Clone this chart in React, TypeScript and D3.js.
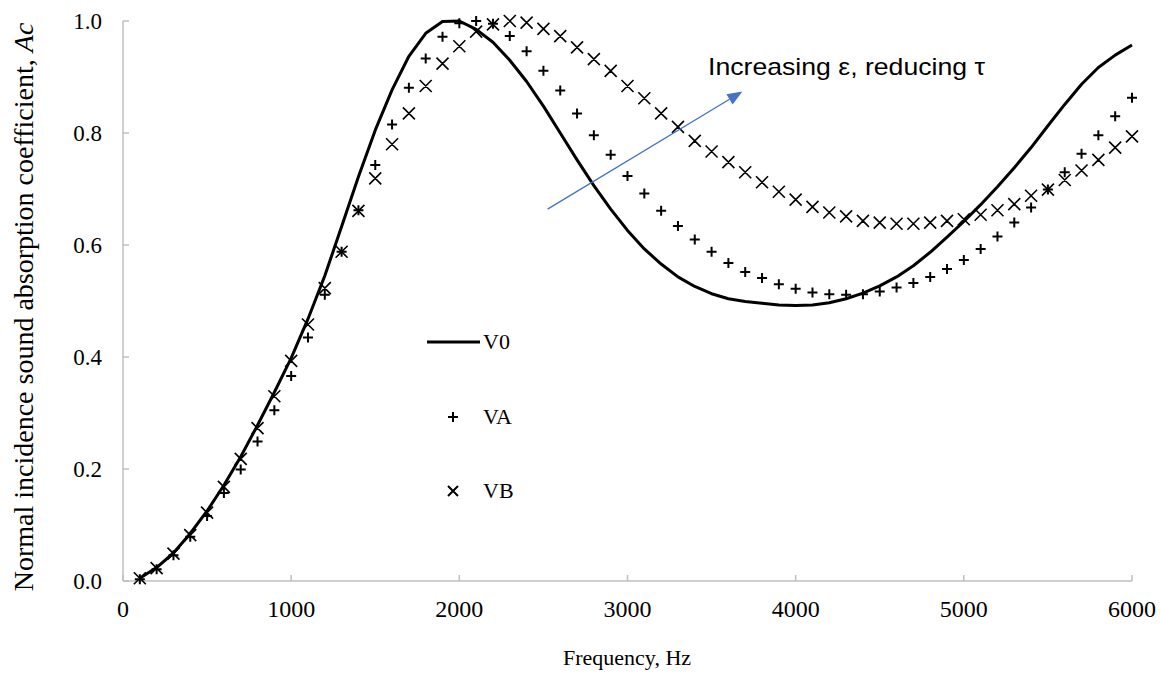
import React from 'react';
import * as d3 from 'd3';

// frequency, Hz (100 .. 6000 step 100)
const freqs = [
  100, 200, 300, 400, 500, 600, 700, 800, 900, 1000,
  1100, 1200, 1300, 1400, 1500, 1600, 1700, 1800, 1900, 2000,
  2100, 2200, 2300, 2400, 2500, 2600, 2700, 2800, 2900, 3000,
  3100, 3200, 3300, 3400, 3500, 3600, 3700, 3800, 3900, 4000,
  4100, 4200, 4300, 4400, 4500, 4600, 4700, 4800, 4900, 5000,
  5100, 5200, 5300, 5400, 5500, 5600, 5700, 5800, 5900, 6000,
];

const v0 = [
  0.005, 0.024, 0.05, 0.085, 0.125, 0.171, 0.222, 0.278, 0.337, 0.398,
  0.468, 0.545, 0.633, 0.722, 0.805, 0.877, 0.937, 0.978, 0.999, 1.0,
  0.985, 0.962, 0.93, 0.892, 0.848, 0.8, 0.752, 0.706, 0.664, 0.626,
  0.593, 0.566, 0.543, 0.526, 0.513, 0.504, 0.499, 0.496, 0.493, 0.492,
  0.493, 0.497, 0.504, 0.514, 0.527, 0.543, 0.563, 0.587, 0.614, 0.642,
  0.672, 0.704, 0.738, 0.774, 0.813, 0.851, 0.887, 0.917, 0.939, 0.957,
];

const va = [
  0.003, 0.021, 0.046, 0.079, 0.116, 0.157, 0.199, 0.249, 0.305, 0.366,
  0.435, 0.511, 0.588, 0.662, 0.743, 0.815, 0.881, 0.933, 0.972, 0.996,
  1.0, 0.995, 0.973, 0.946, 0.911, 0.876, 0.835, 0.796, 0.761, 0.723,
  0.692, 0.661, 0.634, 0.61, 0.588, 0.568, 0.552, 0.541, 0.53, 0.522,
  0.515, 0.512, 0.511, 0.512, 0.517, 0.524, 0.532, 0.543, 0.557, 0.573,
  0.593, 0.615, 0.64, 0.667, 0.699, 0.73, 0.763, 0.796, 0.83, 0.863,
];

const vb = [
  0.005, 0.023, 0.049, 0.082, 0.122, 0.168, 0.218, 0.273, 0.33, 0.393,
  0.458, 0.523, 0.588, 0.661, 0.719, 0.78, 0.835, 0.884, 0.924, 0.955,
  0.981, 0.994, 1.0, 0.997, 0.986, 0.973, 0.953, 0.932, 0.911, 0.884,
  0.862, 0.835, 0.811, 0.786, 0.767, 0.748, 0.73, 0.712, 0.695, 0.681,
  0.668, 0.658, 0.651, 0.643, 0.64, 0.638, 0.638, 0.64, 0.643, 0.646,
  0.654, 0.662, 0.673, 0.688, 0.699, 0.716, 0.733, 0.752, 0.774, 0.794,
];

const xTicks = [0, 1000, 2000, 3000, 4000, 5000, 6000];
const yTicks = [0, 0.2, 0.4, 0.6, 0.8, 1.0];

// annotation arrow, in data units
const arrowFrom = [2525, 0.664];
const arrowTo = [3683, 0.874];

const W = 1160;
const H = 675;
const serif = "'Liberation Serif', 'Times New Roman', serif";
const axisGray = '#bfbfbf';

export default function App() {
  const x = d3.scaleLinear().domain([0, 6000]).range([123, 1132]);
  const y = d3.scaleLinear().domain([0, 1]).range([581, 21]);

  const line = d3.line<number>()
    .x((_, i) => x(freqs[i]))
    .y(d => y(d));

  const plus = (cx: number, cy: number, s = 5) =>
    `M${cx - s},${cy}H${cx + s}M${cx},${cy - s}V${cy + s}`;
  const cross = (cx: number, cy: number, s = 6) =>
    `M${cx - s},${cy - s}L${cx + s},${cy + s}M${cx - s},${cy + s}L${cx + s},${cy - s}`;

  // arrow geometry
  const ax1 = x(arrowFrom[0]), ay1 = y(arrowFrom[1]);
  const ax2 = x(arrowTo[0]), ay2 = y(arrowTo[1]);
  const ang = Math.atan2(ay2 - ay1, ax2 - ax1);
  const headLen = 15, headHalf = 6;
  const bx = ax2 - headLen * Math.cos(ang), by = ay2 - headLen * Math.sin(ang);
  const head = [
    [ax2, ay2],
    [bx + headHalf * Math.sin(ang), by - headHalf * Math.cos(ang)],
    [bx - headHalf * Math.sin(ang), by + headHalf * Math.cos(ang)],
  ];

  return (
    <svg width={W} height={H} style={{ position: 'absolute', left: 0, top: 0, background: '#fff' }}
      fontFamily={serif}>
      {/* axes */}
      <line x1={x(0)} x2={x(6000)} y1={y(0)} y2={y(0)} stroke={axisGray} strokeWidth={1.5} />
      <line x1={x(0)} x2={x(0)} y1={y(0)} y2={y(1)} stroke={axisGray} strokeWidth={1.5} />
      {xTicks.map(t => (
        <g key={'x' + t}>
          <line x1={x(t)} x2={x(t)} y1={y(0)} y2={y(0) - 6} stroke={axisGray} strokeWidth={1.5} />
          <text x={x(t)} y={y(0) + 36} textAnchor="middle" fontSize={24}>{t}</text>
        </g>
      ))}
      {yTicks.map(t => (
        <g key={'y' + t}>
          <line x1={x(0)} x2={x(0) + 6} y1={y(t)} y2={y(t)} stroke={axisGray} strokeWidth={1.5} />
          <text x={x(0) - 21} y={y(t)} dy="0.33em" textAnchor="end" fontSize={23}>{t.toFixed(1)}</text>
        </g>
      ))}

      {/* titles */}
      <text x={627} y={665} textAnchor="middle" fontSize={22}>Frequency, Hz</text>
      <text transform="translate(33,307) rotate(-90)" textAnchor="middle" fontSize={28}>
        Normal incidence sound absorption coefficient, <tspan fontStyle="italic">Ac</tspan>
      </text>

      {/* series */}
      <path d={line(v0) ?? ''} fill="none" stroke="#000" strokeWidth={3} strokeLinejoin="round" />
      <path d={va.map((v, i) => plus(x(freqs[i]), y(v))).join('')} stroke="#000" strokeWidth={2} fill="none" />
      <path d={vb.map((v, i) => cross(x(freqs[i]), y(v))).join('')} stroke="#000" strokeWidth={1.6} fill="none" />

      {/* legend */}
      <line x1={427} x2={480} y1={342} y2={342} stroke="#000" strokeWidth={3} />
      <text x={483} y={349} fontSize={22}>V0</text>
      <path d={plus(453, 417, 5)} stroke="#000" strokeWidth={2} />
      <text x={483} y={424} fontSize={22}>VA</text>
      <path d={cross(453, 491, 5)} stroke="#000" strokeWidth={2} />
      <text x={483} y={498} fontSize={22}>VB</text>

      {/* annotation */}
      <line x1={ax1} y1={ay1} x2={bx} y2={by} stroke="#4472c4" strokeWidth={1.3} />
      <polygon points={head.map(p => p.join(',')).join(' ')} fill="#4472c4" />
      <text x={708} y={75} fontSize={24} fontFamily="'Liberation Sans', Arial, sans-serif" fill="#000"
        textLength={277} lengthAdjust="spacingAndGlyphs">Increasing ε, reducing τ</text>
    </svg>
  );
}
